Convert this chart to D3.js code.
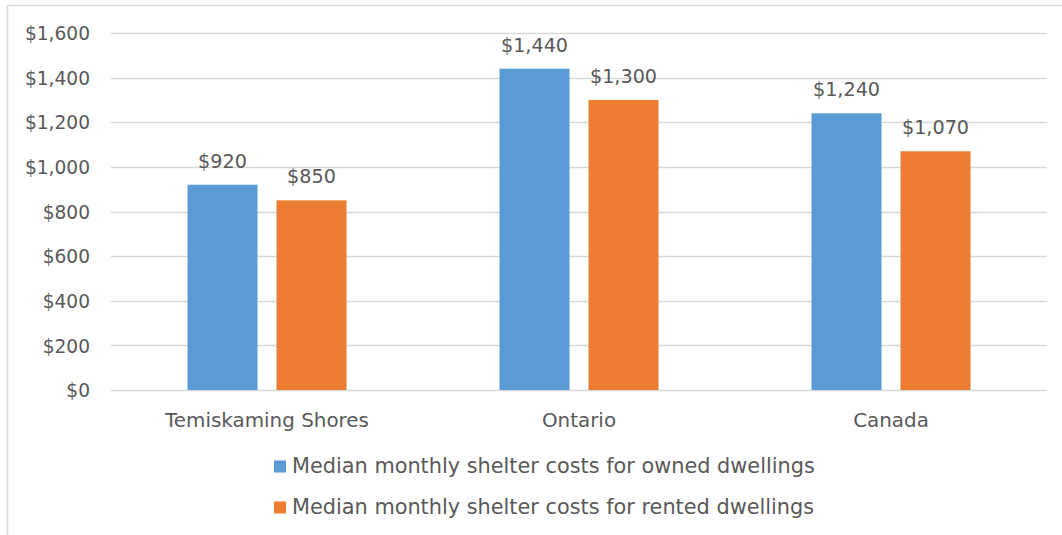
<!DOCTYPE html>
<html>
<head>
<meta charset="utf-8">
<script src="https://cdn.jsdelivr.net/npm/d3@7/dist/d3.min.js"></script>
<style>
  html, body { margin: 0; padding: 0; background: #fff; }
  svg { display: block; }
  text { font-family: "DejaVu Sans", sans-serif; fill: #595959; }
</style>
</head>
<body>
<svg id="chart" width="1062" height="535"></svg>
<script>
const categories = ["Temiskaming Shores", "Ontario", "Canada"];
const seriesNames = [
  "Median monthly shelter costs for owned dwellings",
  "Median monthly shelter costs for rented dwellings"
];
const ownedValues = [920, 1440, 1240];
const rentedValues = [850, 1300, 1070];
const yTicks = [0, 200, 400, 600, 800, 1000, 1200, 1400, 1600];
const colors = ["#5b9bd5", "#ed7d31"];

const svg = d3.select("#chart");
const W = 1062, H = 535;
const plot = { left: 111, right: 1047, top: 33, bottom: 390 };

// chart border
svg.append("rect")
  .attr("x", 7.5).attr("y", 5.5)
  .attr("width", W + 10).attr("height", H + 10)
  .attr("fill", "#fff").attr("stroke", "#d9d9d9").attr("stroke-width", 1.5);

const y = d3.scaleLinear().domain([0, 1600]).range([plot.bottom, plot.top]);
const x0 = d3.scaleBand().domain(categories).range([plot.left, plot.right]).padding(0);
const x1 = d3.scaleBand().domain(seriesNames).range([0, x0.bandwidth()])
  .paddingInner(0.2135).paddingOuter(0.8596);

// gridlines
svg.append("g").selectAll("line").data(yTicks).join("line")
  .attr("x1", plot.left).attr("x2", plot.right)
  .attr("y1", d => Math.round(y(d)) + 0.5).attr("y2", d => Math.round(y(d)) + 0.5)
  .attr("stroke", "#d9d9d9").attr("stroke-width", 1.3);

// y axis labels
const yAxis = d3.axisLeft(y).tickValues(yTicks)
  .tickFormat(d => "$" + d3.format(",")(d)).tickSize(0).tickPadding(0);
const yg = svg.append("g").attr("transform", "translate(90,0)").call(yAxis);
yg.select(".domain").remove();
yg.selectAll("text").style("font-family", "DejaVu Sans").style("font-size", "18.6px")
  .attr("fill", "#595959").attr("dy", "0.36em");

// bars
const data = categories.map((c, i) => ({ cat: c, vals: [ownedValues[i], rentedValues[i]] }));
const groups = svg.append("g").selectAll("g").data(data).join("g")
  .attr("transform", d => `translate(${x0(d.cat)},0)`);
groups.selectAll("rect").data(d => d.vals.map((v, j) => ({ s: seriesNames[j], v, j })))
  .join("rect")
  .attr("x", d => x1(d.s)).attr("width", x1.bandwidth())
  .attr("y", d => y(d.v)).attr("height", d => y(0) - y(d.v))
  .attr("fill", d => colors[d.j]);
groups.selectAll("text.lbl").data(d => d.vals.map((v, j) => ({ s: seriesNames[j], v, j })))
  .join("text").attr("class", "lbl")
  .attr("x", d => x1(d.s) + x1.bandwidth() / 2)
  .attr("y", d => y(d.v) - 17)
  .attr("text-anchor", "middle")
  .style("font-size", "19.2px")
  .text(d => "$" + d3.format(",")(d.v));

// x axis labels
const xAxis = d3.axisBottom(x0).tickSize(0).tickPadding(0);
const xg = svg.append("g").attr("transform", `translate(0,${plot.bottom})`).call(xAxis);
xg.select(".domain").remove();
xg.selectAll("text").style("font-family", "DejaVu Sans").style("font-size", "19.9px")
  .attr("fill", "#595959").attr("dy", 0).attr("y", 37);

// legend
const leg = svg.append("g").selectAll("g").data(seriesNames).join("g")
  .attr("transform", (d, i) => `translate(274,${460.5 + i * 41})`);
leg.append("rect").attr("width", 12).attr("height", 12).attr("fill", (d, i) => colors[i]);
const legText = leg.append("text").attr("x", 18).attr("y", 12.5)
  .style("font-size", "20px").text(d => d);
// fit legend text width to match layout
const lw = legText.node().getComputedTextLength();
const fs = 20 * 523 / lw;
legText.style("font-size", fs + "px");
</script>
</body>
</html>
